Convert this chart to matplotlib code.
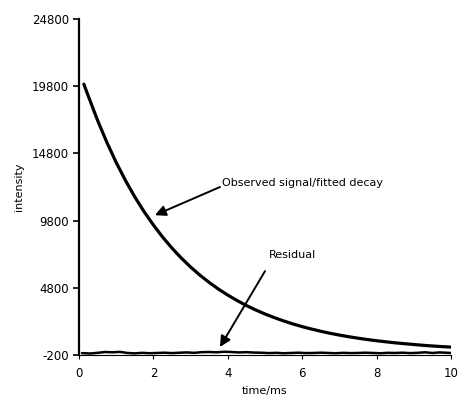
import matplotlib
matplotlib.use("Agg")
import matplotlib.pyplot as plt

plt.rcParams["axes.unicode_minus"] = False

# observed signal / fitted decay
decay_t = [0.13, 0.25, 0.5, 0.75, 1.0, 1.25, 1.5, 1.75, 2.0, 2.25, 2.5, 2.75,
           3.0, 3.25, 3.5, 3.75, 4.0, 4.25, 4.5, 4.75, 5.0, 5.25, 5.5, 5.75,
           6.0, 6.25, 6.5, 6.75, 7.0, 7.25, 7.5, 7.75, 8.0, 8.25, 8.5, 8.75,
           9.0, 9.25, 9.5, 9.75, 10.0]
decay_v = [19950, 19060, 17250, 15610, 14120, 12780, 11560, 10460, 9470, 8565,
           7750, 7010, 6345, 5740, 5195, 4700, 4255, 3850, 3480, 3150, 2850,
           2580, 2335, 2110, 1910, 1730, 1565, 1415, 1280, 1160, 1050, 950,
           860, 780, 705, 640, 580, 520, 470, 425, 390]

# residual
resid_t = [0.08, 0.3, 0.5, 0.7, 0.9, 1.1, 1.3, 1.5, 1.7, 1.9, 2.1, 2.3, 2.5,
           2.7, 2.9, 3.1, 3.3, 3.5, 3.7, 3.9, 4.1, 4.3, 4.5, 4.7, 4.9, 5.1,
           5.3, 5.5, 5.7, 5.9, 6.1, 6.3, 6.5, 6.7, 6.9, 7.1, 7.3, 7.5, 7.7,
           7.9, 8.1, 8.3, 8.5, 8.7, 8.9, 9.1, 9.3, 9.5, 9.7, 10.0]
resid_v = [-60, -90, -40, 20, 0, 30, -50, -80, -40, -70, -50, -30, -60,
           -30, -10, -40, 10, 20, 0, 40, 20, -10, 10, -20, -30, -60, -40, -70,
           -50, -30, -60, -50, -30, -50, -70, -40, -60, -50, -30, -50, -70,
           -40, -50, -30, -60, -40, 0, -50, -10, -50]

yticks = [-200, 4800, 9800, 14800, 19800, 24800]
xticks = [0, 2, 4, 6, 8, 10]

fig = plt.figure(figsize=(4.61, 3.95), dpi=100)
ax = fig.add_axes([0.1714, 0.1013, 0.8069, 0.8506])

ax.plot(decay_t, decay_v, color="black", lw=2.3, solid_capstyle="round")
ax.plot(resid_t, resid_v, color="black", lw=1.8, solid_capstyle="round")

ax.set_xlim(0, 10)
ax.set_ylim(-200, 24800)
ax.set_xticks(xticks)
ax.set_yticks(yticks)
ax.tick_params(axis="y", length=4, width=1.2, labelsize=8.5, pad=3)
ax.tick_params(axis="x", length=3, width=0.8, labelsize=8.5, pad=6)

for s in ["top", "right"]:
    ax.spines[s].set_visible(False)
ax.spines["left"].set_linewidth(1.6)
ax.spines["bottom"].set_linewidth(0.8)

ax.set_xlabel("time/ms", fontsize=8, labelpad=4)
ax.set_ylabel("intensity", fontsize=8, labelpad=6)

arrow = dict(arrowstyle="-|>", color="black", lw=1.4, mutation_scale=16,
             shrinkA=0, shrinkB=0)
ax.text(3.84, 12580, "Observed signal/fitted decay", fontsize=8,
        ha="left", va="center")
ax.annotate("", xy=(2.04, 10200), xytext=(3.79, 12300), arrowprops=arrow)
ax.text(5.75, 7230, "Residual", fontsize=8, ha="center", va="center")
ax.annotate("", xy=(3.79, 394), xytext=(5.0, 6040), arrowprops=arrow)

fig.savefig("out.png", dpi=100)
